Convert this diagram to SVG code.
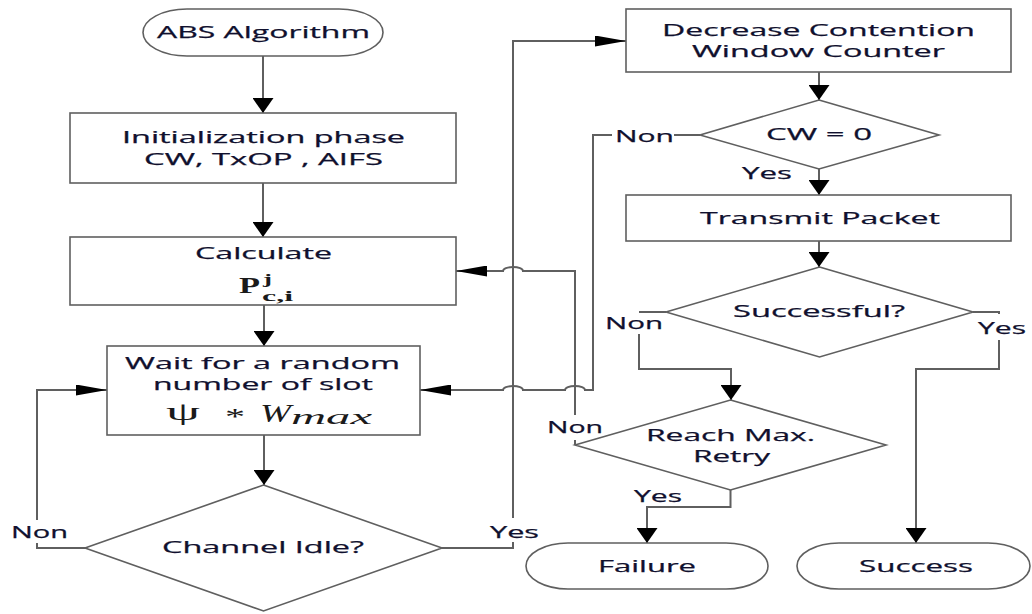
<svg xmlns="http://www.w3.org/2000/svg" width="1032" height="614" viewBox="0 0 1032 614">
  <defs>
    <style>
      .box { fill: #ffffff; stroke: #5f5f5f; stroke-width: 1.6; }
      .wire { fill: none; stroke: #5f5f5f; stroke-width: 2; }
      .lbl { font-family: "Open Sans", "Noto Sans", "DejaVu Sans", sans-serif; font-size: 17px; fill: #10102e; stroke: #10102e; stroke-width: 0.25; }
      .math { font-family: "Liberation Serif", "DejaVu Serif", serif; fill: #1a1a1a; }
    </style>
    <marker id="arrow-down" viewBox="0 0 21 15" markerUnits="userSpaceOnUse" markerWidth="21" markerHeight="15" refX="10.5" refY="15" orient="0">
      <path d="M0,0 L21,0 L10.5,15 Z" fill="#000"/>
    </marker>
    <marker id="arrow-right" viewBox="0 0 31 11" markerUnits="userSpaceOnUse" markerWidth="31" markerHeight="11" refX="31" refY="5.5" orient="0">
      <path d="M0,0 L31,5.5 L0,11 Z" fill="#000"/>
    </marker>
    <marker id="arrow-left" viewBox="0 0 31 11" markerUnits="userSpaceOnUse" markerWidth="31" markerHeight="11" refX="0" refY="5.5" orient="0">
      <path d="M31,0 L0,5.5 L31,11 Z" fill="#000"/>
    </marker>
  </defs>

  <rect width="1032" height="614" fill="#ffffff"/>

  <!-- connectors -->
  <g id="connectors">
    <path class="wire" d="M263,56 V113" marker-end="url(#arrow-down)"/>
    <path class="wire" d="M263,183 V237" marker-end="url(#arrow-down)"/>
    <path class="wire" d="M264,305 V346" marker-end="url(#arrow-down)"/>
    <path class="wire" d="M264,435 V485" marker-end="url(#arrow-down)"/>

    <!-- channel idle: Non loop back to wait -->
    <path class="wire" d="M85,548 H37 V543"/>
    <path class="wire" d="M37,520 V390 H107" marker-end="url(#arrow-right)"/>
    <text class="lbl" x="11" y="538" textLength="57" lengthAdjust="spacingAndGlyphs">Non</text>

    <!-- channel idle: Yes up to decrease counter -->
    <path class="wire" d="M442,548 H513 V542"/>
    <path class="wire" d="M513,518 V41 H626" marker-end="url(#arrow-right)"/>
    <text class="lbl" x="490" y="538" textLength="49" lengthAdjust="spacingAndGlyphs">Yes</text>

    <path class="wire" d="M819,72 V100" marker-end="url(#arrow-down)"/>

    <!-- CW = 0: Non back to wait -->
    <path class="wire" d="M700,135 H674"/>
    <text class="lbl" x="615" y="142" textLength="59" lengthAdjust="spacingAndGlyphs">Non</text>
    <path class="wire" d="M612,135 H593 V390 H585 A10,4 0 0 0 565,390 H523 A10,4 0 0 0 503,390 H420" marker-end="url(#arrow-left)"/>

    <!-- CW = 0: Yes -->
    <path class="wire" d="M819,169 V195" marker-end="url(#arrow-down)"/>
    <text class="lbl" x="742" y="179" textLength="50" lengthAdjust="spacingAndGlyphs">Yes</text>

    <path class="wire" d="M819,241 V267" marker-end="url(#arrow-down)"/>

    <!-- successful: Non -->
    <path class="wire" d="M666,312 H639"/>
    <text class="lbl" x="605" y="329" textLength="58" lengthAdjust="spacingAndGlyphs">Non</text>
    <path class="wire" d="M639,334 V369 H731 V400" marker-end="url(#arrow-down)"/>

    <!-- successful: Yes -->
    <path class="wire" d="M973,312 H999 V314"/>
    <text class="lbl" x="978" y="334" textLength="48" lengthAdjust="spacingAndGlyphs">Yes</text>
    <path class="wire" d="M999,340 V369 H916 V543" marker-end="url(#arrow-down)"/>

    <!-- reach max retry: Non back to calculate -->
    <path class="wire" d="M575,445 V440"/>
    <text class="lbl" x="547" y="433" textLength="56" lengthAdjust="spacingAndGlyphs">Non</text>
    <path class="wire" d="M575,415 V271 H523 A10,4 0 0 0 503,271 H456" marker-end="url(#arrow-left)"/>

    <!-- reach max retry: Yes -->
    <path class="wire" d="M730.5,490 V507 H647 V543" marker-end="url(#arrow-down)"/>
    <text class="lbl" x="634" y="502" textLength="48" lengthAdjust="spacingAndGlyphs">Yes</text>
  </g>

  <g id="start">
    <rect class="box" x="143" y="9" width="240" height="47" rx="44" ry="23.5"/>
    <text class="lbl" x="157" y="38" textLength="213" lengthAdjust="spacingAndGlyphs">ABS Algorithm</text>
  </g>

  <g id="init">
    <rect class="box" x="70" y="113" width="386" height="70"/>
    <text class="lbl" x="122" y="143" textLength="283" lengthAdjust="spacingAndGlyphs">Initialization phase</text>
    <text class="lbl" x="144" y="165" textLength="239" lengthAdjust="spacingAndGlyphs">CW, TxOP , AIFS</text>
  </g>

  <g id="calculate">
    <rect class="box" x="70" y="237" width="386" height="68"/>
    <text class="lbl" x="195" y="259" textLength="137" lengthAdjust="spacingAndGlyphs">Calculate</text>
    <text class="math" x="239" y="293" font-size="24" font-weight="bold" textLength="21" lengthAdjust="spacingAndGlyphs">P</text>
    <text class="math" x="263" y="284" font-size="15" font-weight="bold" textLength="9" lengthAdjust="spacingAndGlyphs">j</text>
    <text class="math" x="262" y="301" font-size="15" font-weight="bold" textLength="31" lengthAdjust="spacingAndGlyphs">c,i</text>
  </g>

  <g id="wait">
    <rect class="box" x="107" y="346" width="313" height="89"/>
    <text class="lbl" x="125" y="369" textLength="275" lengthAdjust="spacingAndGlyphs">Wait for a random</text>
    <text class="lbl" x="153" y="390" textLength="220" lengthAdjust="spacingAndGlyphs">number of slot</text>
    <text class="math" x="166" y="420" font-size="25" textLength="34" lengthAdjust="spacingAndGlyphs">ψ</text>
    <text class="math" x="225" y="424" font-size="24" textLength="20" lengthAdjust="spacingAndGlyphs">*</text>
    <text class="math" x="260" y="422" font-size="25" font-style="italic" textLength="31" lengthAdjust="spacingAndGlyphs">W</text>
    <text class="math" x="291" y="424" font-size="21" font-style="italic" textLength="81" lengthAdjust="spacingAndGlyphs">max</text>
  </g>

  <g id="channel-idle">
    <polygon class="box" points="263.5,485 442,548 263.5,611 85,548"/>
    <text class="lbl" x="162" y="553" textLength="202" lengthAdjust="spacingAndGlyphs">Channel Idle?</text>
  </g>

  <g id="decrease">
    <rect class="box" x="626" y="9" width="385" height="63"/>
    <text class="lbl" x="662" y="36" textLength="313" lengthAdjust="spacingAndGlyphs">Decrease Contention</text>
    <text class="lbl" x="692" y="57" textLength="253" lengthAdjust="spacingAndGlyphs">Window Counter</text>
  </g>

  <g id="cw-zero">
    <polygon class="box" points="819,100 939,135 819,169 700,135"/>
    <text class="lbl" x="766" y="140" textLength="106" lengthAdjust="spacingAndGlyphs">CW = 0</text>
  </g>

  <g id="transmit">
    <rect class="box" x="626" y="195" width="385" height="46"/>
    <text class="lbl" x="700" y="224" textLength="240" lengthAdjust="spacingAndGlyphs">Transmit Packet</text>
  </g>

  <g id="successful">
    <polygon class="box" points="819.5,267 973,312 819.5,357 666,312"/>
    <text class="lbl" x="733" y="317" textLength="172" lengthAdjust="spacingAndGlyphs">Successful?</text>
  </g>

  <g id="reach-max">
    <polygon class="box" points="730.5,400 886,445 730.5,490 575,445"/>
    <text class="lbl" x="646" y="441" textLength="169" lengthAdjust="spacingAndGlyphs">Reach Max.</text>
    <text class="lbl" x="693" y="462" textLength="77" lengthAdjust="spacingAndGlyphs">Retry</text>
  </g>

  <g id="failure">
    <rect class="box" x="526" y="543" width="242" height="46" rx="42" ry="23"/>
    <text class="lbl" x="598" y="572" textLength="98" lengthAdjust="spacingAndGlyphs">Failure</text>
  </g>

  <g id="success">
    <rect class="box" x="797" y="543" width="233" height="46" rx="42" ry="23"/>
    <text class="lbl" x="859" y="572" textLength="114" lengthAdjust="spacingAndGlyphs">Success</text>
  </g>
</svg>
